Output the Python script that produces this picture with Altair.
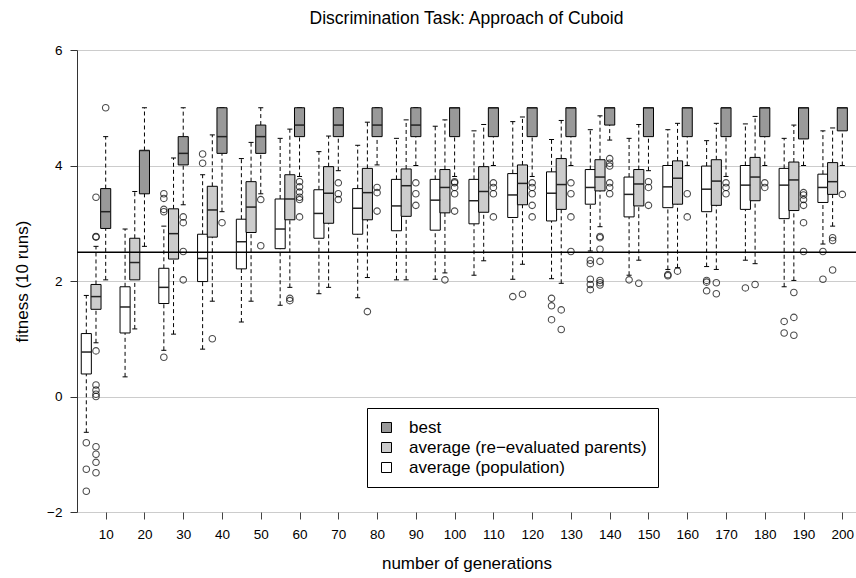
import altair as alt
import pandas as pd

FONT = "Liberation Sans"

generations = [10, 20, 30, 40, 50, 60, 70, 80, 90, 100,
               110, 120, 130, 140, 150, 160, 170, 180, 190, 200]

series_names = ["best", "average (re\u2212evaluated parents)", "average (population)"]
fill_colors = ["#999999", "#cccccc", "#ffffff"]

# average (population)
pop_lower = [-0.62, 0.34, 0.80, 0.82, 1.29, 1.58, 1.78, 1.71, 2.02, 2.03,
             2.10, 2.03, 2.04, 2.52, 2.10, 2.20, 2.25, 2.36, 1.90, 2.64]
pop_q1 = [0.39, 1.10, 1.61, 1.99, 2.21, 2.56, 2.74, 2.81, 2.87, 2.88,
          2.99, 3.10, 3.04, 3.33, 3.11, 3.27, 3.20, 3.24, 3.08, 3.36]
pop_med = [0.77, 1.55, 1.89, 2.39, 2.68, 2.90, 3.17, 3.26, 3.30, 3.40,
           3.39, 3.49, 3.52, 3.62, 3.50, 3.63, 3.59, 3.66, 3.66, 3.62]
pop_q3 = [1.09, 1.90, 2.22, 2.81, 3.07, 3.42, 3.58, 3.60, 3.76, 3.76,
          3.76, 3.86, 3.89, 3.93, 3.80, 4.00, 3.99, 4.00, 3.95, 3.85]
pop_upper = [1.75, 2.90, 2.95, 3.84, 4.12, 4.47, 4.24, 4.35, 4.47, 4.68,
             4.60, 4.76, 4.45, 4.62, 4.47, 4.62, 4.43, 4.72, 4.47, 4.60]
pop_out = [[-0.80, -1.26, -1.64], [], [3.51, 3.43, 3.24, 3.20, 0.68], [4.20, 4.04], [],
           [], [], [], [], [],
           [], [1.73], [1.70, 1.57, 1.33], [2.36, 2.30, 2.03, 1.94, 1.85], [2.02],
           [2.11, 2.09], [2.01, 1.98, 1.83], [1.88], [1.30, 1.10], [2.51, 2.03]]

# average (re-evaluated parents)
par_lower = [0.93, 1.17, 1.08, 1.65, 1.65, 1.89, 1.89, 2.06, 2.02, 2.14,
             2.35, 2.29, 1.96, 2.94, 2.36, 2.23, 2.20, 2.30, 2.01, 2.95]
par_q1 = [1.51, 2.02, 2.38, 2.76, 2.84, 3.06, 3.00, 3.06, 3.12, 3.18,
          3.19, 3.32, 3.24, 3.56, 3.30, 3.33, 3.31, 3.39, 3.22, 3.50]
par_med = [1.73, 2.32, 2.82, 3.23, 3.28, 3.42, 3.52, 3.53, 3.65, 3.62,
           3.55, 3.69, 3.67, 3.80, 3.68, 3.78, 3.73, 3.80, 3.75, 3.72]
par_q3 = [1.94, 2.74, 3.25, 3.64, 3.72, 3.84, 3.98, 3.95, 3.94, 3.93,
          3.98, 4.01, 4.12, 4.10, 3.93, 4.08, 4.10, 4.14, 4.06, 4.05]
par_upper = [2.60, 3.55, 4.13, 4.53, 4.40, 4.63, 4.51, 4.75, 4.79, 4.79,
             4.71, 4.84, 4.78, 4.86, 4.71, 4.73, 4.73, 4.85, 4.70, 4.65]
par_out = [[3.45, 2.77, 2.76, 0.79, 0.20, 0.11, 0.04, 0.0, -0.87, -1.00, -1.14, -1.32],
           [], [], [1.00], [],
           [1.70, 1.66], [], [1.47], [], [2.02],
           [], [1.77], [1.50, 1.16], [2.77, 2.75, 2.55, 2.34, 2.01, 1.97, 1.93], [1.96],
           [2.17], [1.97, 1.78], [1.94], [1.80, 1.37, 1.06], [2.75, 2.70, 2.19]]

# best
best_lower = [2.02, 2.60, 3.32, 3.20, 3.51, 3.81, 3.91, 4.01, 4.00, 3.81,
              4.00, 3.81, 4.00, 4.44, 3.91, 4.00, 3.81, 4.00, 4.00, 4.00]
best_q1 = [2.91, 3.51, 4.01, 4.21, 4.21, 4.50, 4.50, 4.50, 4.50, 4.50,
           4.50, 4.50, 4.50, 4.70, 4.50, 4.50, 4.50, 4.50, 4.46, 4.60]
best_med = [3.20, 4.26, 4.21, 4.50, 4.50, 4.70, 4.70, 4.70, 4.70, 5.00,
            5.00, 5.00, 5.00, 5.00, 5.00, 5.00, 5.00, 5.00, 5.00, 5.00]
best_q3 = [3.60, 4.26, 4.50, 5.00, 4.70, 5.00, 5.00, 5.00, 5.00, 5.00,
           5.00, 5.00, 5.00, 5.00, 5.00, 5.00, 5.00, 5.00, 5.00, 5.00]
best_upper = [4.50, 5.00, 5.00, 5.00, 5.00, 5.00, 5.00, 5.00, 5.00, 5.00,
              5.00, 5.00, 5.00, 5.00, 5.00, 5.00, 5.00, 5.00, 5.00, 5.00]
best_out = [[5.00], [], [3.11, 3.01, 2.51, 2.02], [3.01], [3.41, 2.61],
            [3.72, 3.63, 3.54, 3.45, 3.41, 3.11], [3.70, 3.51, 3.41], [3.62, 3.53, 3.21],
            [3.70, 3.51, 3.31], [3.72, 3.70, 3.62, 3.51, 3.21],
            [3.70, 3.62, 3.51, 3.11], [3.70, 3.62, 3.51, 3.31, 3.11], [3.70, 3.51, 3.11, 2.51],
            [4.12, 4.04, 3.99, 3.70, 3.62, 3.51], [3.72, 3.62, 3.31],
            [3.51, 3.11], [3.70, 3.62, 3.51], [3.70, 3.62],
            [3.53, 3.49, 3.41, 3.31, 3.01, 2.51], [3.50]]

threshold = [2.5]

# ---- build tables ----
groups = [
    (series_names[2], 0, pop_lower, pop_q1, pop_med, pop_q3, pop_upper, pop_out),
    (series_names[1], 1, par_lower, par_q1, par_med, par_q3, par_upper, par_out),
    (series_names[0], 2, best_lower, best_q1, best_med, best_q3, best_upper, best_out),
]
box_rows, out_rows = [], []
for name, slot, lo, q1, md, q3, up, outs in groups:
    for i, g in enumerate(generations):
        box_rows.append(dict(series=name, slot=slot, idx=i + 1, lower=lo[i], q1=q1[i],
                             med=md[i], q3=q3[i], upper=up[i]))
        for v in outs[i]:
            out_rows.append(dict(series=name, slot=slot, idx=i + 1, value=v))
box_df = pd.DataFrame(box_rows)
out_df = pd.DataFrame(out_rows)

xscale = alt.Scale(domain=[0.26, 20.353], nice=False, zero=False)
yscale = alt.Scale(domain=[-2, 6], nice=False, zero=False)

xaxis = alt.Axis(values=list(range(1, 21)), labelExpr="datum.value * 10", grid=False,
                 domain=False, tickColor="#444444", tickSize=7, labelFontSize=13.5,
                 labelPadding=8, labelColor="black", labelFont=FONT,
                 title="number of generations", titleFontSize=17, titleFontWeight="normal",
                 titleFont=FONT, titleColor="black", titleX=389.5, titleY=51,
                 titleAlign="center", titleBaseline="middle")
yaxis = alt.Axis(values=[-2, 0, 2, 4, 6], format="d", grid=True, gridColor="#cccccc",
                 domain=True, domainColor="#333333", tickColor="#333333", tickSize=7,
                 labelFontSize=13.5, labelPadding=8, labelColor="black", labelFont=FONT,
                 title="fitness (10 runs)", titleFontSize=17, titleFontWeight="normal",
                 titleFont=FONT, titleColor="black", titleX=-55, titleY=231,
                 titleAngle=270, titleAlign="center", titleBaseline="middle")

base = alt.Chart(box_df).transform_calculate(
    pos="datum.idx - 0.5 + 0.25 * datum.slot",
    xl="datum.idx - 0.5 + 0.25 * datum.slot - 0.13",
    xr="datum.idx - 0.5 + 0.25 * datum.slot + 0.13",
    cl="datum.idx - 0.5 + 0.25 * datum.slot - 0.065",
    cr="datum.idx - 0.5 + 0.25 * datum.slot + 0.065",
)

whisk_lo = base.mark_rule(color="black", strokeWidth=1, strokeDash=[4, 3]).encode(
    x=alt.X("pos:Q", scale=xscale, axis=xaxis), y=alt.Y("lower:Q", scale=yscale, axis=yaxis), y2="q1:Q")
whisk_hi = base.mark_rule(color="black", strokeWidth=1, strokeDash=[4, 3]).encode(
    x=alt.X("pos:Q", scale=xscale), y=alt.Y("q3:Q", scale=yscale), y2="upper:Q")
cap_lo = base.mark_rule(color="black", strokeWidth=1).encode(
    x=alt.X("cl:Q", scale=xscale), x2="cr:Q", y=alt.Y("lower:Q", scale=yscale))
cap_hi = base.mark_rule(color="black", strokeWidth=1).encode(
    x=alt.X("cl:Q", scale=xscale), x2="cr:Q", y=alt.Y("upper:Q", scale=yscale))

boxes = base.mark_rect(stroke="black", strokeWidth=1).encode(
    x=alt.X("xl:Q", scale=xscale), x2="xr:Q",
    y=alt.Y("q1:Q", scale=yscale), y2="q3:Q",
    fill=alt.Fill("series:N",
                  scale=alt.Scale(domain=series_names, range=fill_colors),
                  legend=alt.Legend(title=None, orient="none", legendX=290, legendY=358,
                                    symbolType="square", symbolSize=100,
                                    symbolStrokeColor="black", symbolStrokeWidth=1,
                                    symbolOpacity=1,
                                    labelFontSize=17, labelFont=FONT, labelColor="black",
                                    labelLimit=500, labelOffset=14,
                                    strokeColor="black", fillColor="white",
                                    padding=11, rowPadding=2)))
medians = base.mark_rule(color="#222222", strokeWidth=1.5).encode(
    x=alt.X("xl:Q", scale=xscale), x2="xr:Q", y=alt.Y("med:Q", scale=yscale))

outliers = alt.Chart(out_df).transform_calculate(
    pos="datum.idx - 0.5 + 0.25 * datum.slot"
).mark_point(shape="circle", filled=False, color="black", size=42, strokeWidth=1.1).encode(
    x=alt.X("pos:Q", scale=xscale), y=alt.Y("value:Q", scale=yscale))

hline = alt.Chart(pd.DataFrame({"y": threshold})).mark_rule(color="black", strokeWidth=1.5).encode(
    y=alt.Y("y:Q", scale=yscale))

chart = alt.layer(whisk_lo, whisk_hi, cap_lo, cap_hi, boxes, medians, outliers, hline).properties(
    width=779, height=462,
    padding={"left": 77, "top": 50, "right": 0, "bottom": 66},
    autosize=alt.AutoSizeParams(type="none"),
    title=alt.TitleParams("Discrimination Task: Approach of Cuboid", fontSize=17.5,
                          fontWeight="normal", font=FONT, color="black",
                          anchor="middle", baseline="alphabetic", offset=2),
).configure_view(stroke=None).configure(background="white")

chart.save("out.html", embed_options={"renderer": "svg", "actions": False})
